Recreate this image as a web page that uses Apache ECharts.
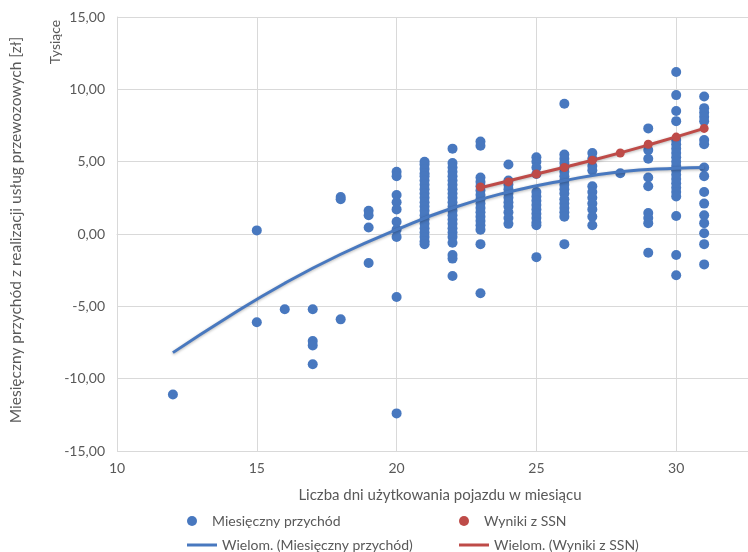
<!DOCTYPE html>
<html>
<head>
<meta charset="utf-8">
<script src="https://cdn.jsdelivr.net/npm/echarts@6/dist/echarts.min.js"></script>
<style>
  html, body { margin: 0; padding: 0; background: #fff; }
  #chart { width: 748px; height: 552px; }
</style>
</head>
<body>
<div id="chart"></div>
<script>
// dni użytkowania (oś X) i wartości przychodu w tys. zł dla każdego dnia
const dni = [12, 15, 16, 17, 18, 19, 20, 21, 22, 23, 24, 25, 26, 27, 28, 29, 30, 31];
const przychod = [
    [-11.1],
    [0.25, -6.1],
    [-5.2],
    [-5.2, -7.4, -7.7, -9.0],
    [2.55, 2.4, -5.9],
    [1.6, 1.3, 0.45, -2.0],
    [4.3, 4.0, 2.7, 2.2, 1.7, 0.85, 0.3, -0.2, -4.35, -12.4],
    [5.0, 4.8, 4.5, 4.2, 4.0, 3.7, 3.4, 3.1, 2.8, 2.5, 2.2, 1.9, 1.6, 1.3, 1.0, 0.7, 0.4, 0.1, -0.2, -0.5, -0.7],
    [5.9, 4.9, 4.6, 4.3, 4.0, 3.7, 3.4, 3.1, 2.8, 2.5, 2.2, 1.9, 1.6, 1.3, 1.0, 0.7, 0.4, 0.1, -0.2, -0.6, -1.45, -1.7, -2.9],
    [6.4, 6.1, 3.9, 3.6, 3.3, 3.0, 2.7, 2.4, 2.1, 1.8, 1.5, 1.2, 0.9, 0.6, 0.3, -0.7, -4.1],
    [4.8, 3.7, 3.4, 3.1, 2.8, 2.5, 2.2, 1.9, 1.5, 1.1, 0.7],
    [5.3, 5.0, 4.6, 4.15, 2.9, 2.6, 2.3, 2.0, 1.7, 1.4, 1.1, 0.8, 0.6, -1.6],
    [9.0, 5.5, 5.2, 4.9, 4.6, 4.3, 4.0, 3.7, 3.4, 3.1, 2.8, 2.4, 2.1, 1.8, 1.5, 1.2, -0.7],
    [5.6, 5.2, 4.7, 4.4, 3.3, 2.9, 2.5, 2.1, 1.7, 1.2, 0.6],
    [4.2],
    [7.3, 5.8, 5.2, 3.9, 3.3, 1.45, 1.1, 0.75, -1.3],
    [11.2, 9.6, 8.5, 7.8, 6.5, 6.2, 5.9, 5.6, 5.3, 5.0, 4.7, 4.4, 4.1, 3.8, 3.5, 3.2, 2.9, 2.6, 1.25, -1.45, -2.85],
    [9.5, 8.7, 8.4, 8.1, 7.8, 6.5, 6.2, 4.6, 4.0, 2.9, 2.1, 1.3, 0.75, 0.05, -0.7, -2.1]
];

// wyniki z SSN
const dniSSN = [23, 24, 25, 26, 27, 28, 29, 30, 31];
const wynikiSSN = [3.25, 3.6, 4.15, 4.6, 5.1, 5.6, 6.2, 6.7, 7.3];

// linie trendu
const dniTrend = [12, 14, 16, 18, 20, 22, 24, 26, 28, 30, 31];
const trendPrzychod = [-8.2, -5.7, -3.4, -1.4, 0.3, 1.8, 2.9, 3.7, 4.3, 4.55, 4.6];
const dniTrendSSN = [23, 25, 27, 29, 31];
const trendSSN = [3.2, 4.15, 5.1, 6.15, 7.3];

const BLUE = "#4878BF";
const RED = "#BE4B48";
const TXT = "#595959";
const FONT = "Lato";

const punkty = [];
dni.forEach((d, i) => przychod[i].forEach(v => punkty.push([d, v])));

const legendText = { color: TXT, fontSize: 14, fontFamily: FONT };

const option = {
    animation: false,
    backgroundColor: "#fff",
    textStyle: { fontFamily: FONT },
    // obszar wykresu wychodzi poza prawą krawędź (oś do 35)
    grid: { left: 117, top: 17, width: 699, height: 434, outerBoundsMode: "none", containLabel: false },
    xAxis: {
        type: "value",
        min: 10, max: 35, interval: 5,
        axisLine: { lineStyle: { color: "#d9d9d9" } },
        axisTick: { show: false },
        splitLine: { lineStyle: { color: "#d9d9d9" } },
        axisLabel: { color: TXT, fontSize: 14, margin: 10, fontFamily: FONT },
    },
    yAxis: {
        type: "value",
        min: -15, max: 15, interval: 5,
        axisLine: { show: true, lineStyle: { color: "#d9d9d9" } },
        axisTick: { show: false },
        splitLine: { lineStyle: { color: "#d9d9d9" } },
        axisLabel: {
            color: TXT, fontSize: 14, margin: 12, fontFamily: FONT,
            formatter: v => v.toFixed(2).replace(".", ","),
        },
    },
    legend: [
        { data: [{ name: "Miesięczny przychód", icon: "circle" }], left: 182, top: 509, itemWidth: 30, itemHeight: 10, itemGap: 0, textStyle: legendText },
        { data: [{ name: "Wyniki z SSN", icon: "circle" }], left: 454, top: 509, itemWidth: 30, itemHeight: 10, itemGap: 0, textStyle: legendText },
        { data: [{ name: "Wielom. (Miesięczny przychód)", icon: "rect" }], left: 182, top: 533, itemWidth: 30, itemHeight: 3, itemGap: 0, textStyle: legendText },
        { data: [{ name: "Wielom. (Wyniki z SSN)", icon: "rect" }], left: 454, top: 533, itemWidth: 30, itemHeight: 3, itemGap: 0, textStyle: legendText },
    ],
    graphic: [
        { type: "text", x: 440, y: 495, style: { text: "Liczba dni użytkowania pojazdu w miesiącu", fill: TXT, font: "15px " + FONT, align: "center", verticalAlign: "middle" } },
        { type: "text", rotation: Math.PI / 2, x: 16, y: 230, style: { text: "Miesięczny przychód z realizacji usług przewozowych [zł]", fill: TXT, font: "15.5px " + FONT, align: "center", verticalAlign: "middle" } },
        { type: "text", rotation: Math.PI / 2, x: 55, y: 42, style: { text: "Tysiące", fill: TXT, font: "14px " + FONT, align: "center", verticalAlign: "middle" } },
    ],
    series: [
        {
            name: "Miesięczny przychód",
            type: "scatter",
            data: punkty,
            symbolSize: 10,
            itemStyle: { color: BLUE, opacity: 1 },
            z: 2,
        },
        {
            name: "Wyniki z SSN",
            type: "scatter",
            data: dniSSN.map((d, i) => [d, wynikiSSN[i]]),
            symbolSize: 9,
            itemStyle: { color: RED, opacity: 1 },
            z: 5,
        },
        {
            name: "Wielom. (Miesięczny przychód)",
            type: "line",
            data: dniTrend.map((d, i) => [d, trendPrzychod[i]]),
            smooth: true,
            showSymbol: false,
            lineStyle: { color: BLUE, width: 3, shadowColor: "rgba(0,0,0,0.3)", shadowBlur: 3, shadowOffsetY: 1 },
            itemStyle: { color: BLUE },
            z: 3,
        },
        {
            name: "Wielom. (Wyniki z SSN)",
            type: "line",
            data: dniTrendSSN.map((d, i) => [d, trendSSN[i]]),
            smooth: true,
            showSymbol: false,
            lineStyle: { color: RED, width: 3, shadowColor: "rgba(0,0,0,0.3)", shadowBlur: 3, shadowOffsetY: 1 },
            itemStyle: { color: RED },
            z: 4,
        },
    ],
};

const myChart = echarts.init(document.getElementById("chart"));
myChart.setOption(option);
</script>
</body>
</html>
